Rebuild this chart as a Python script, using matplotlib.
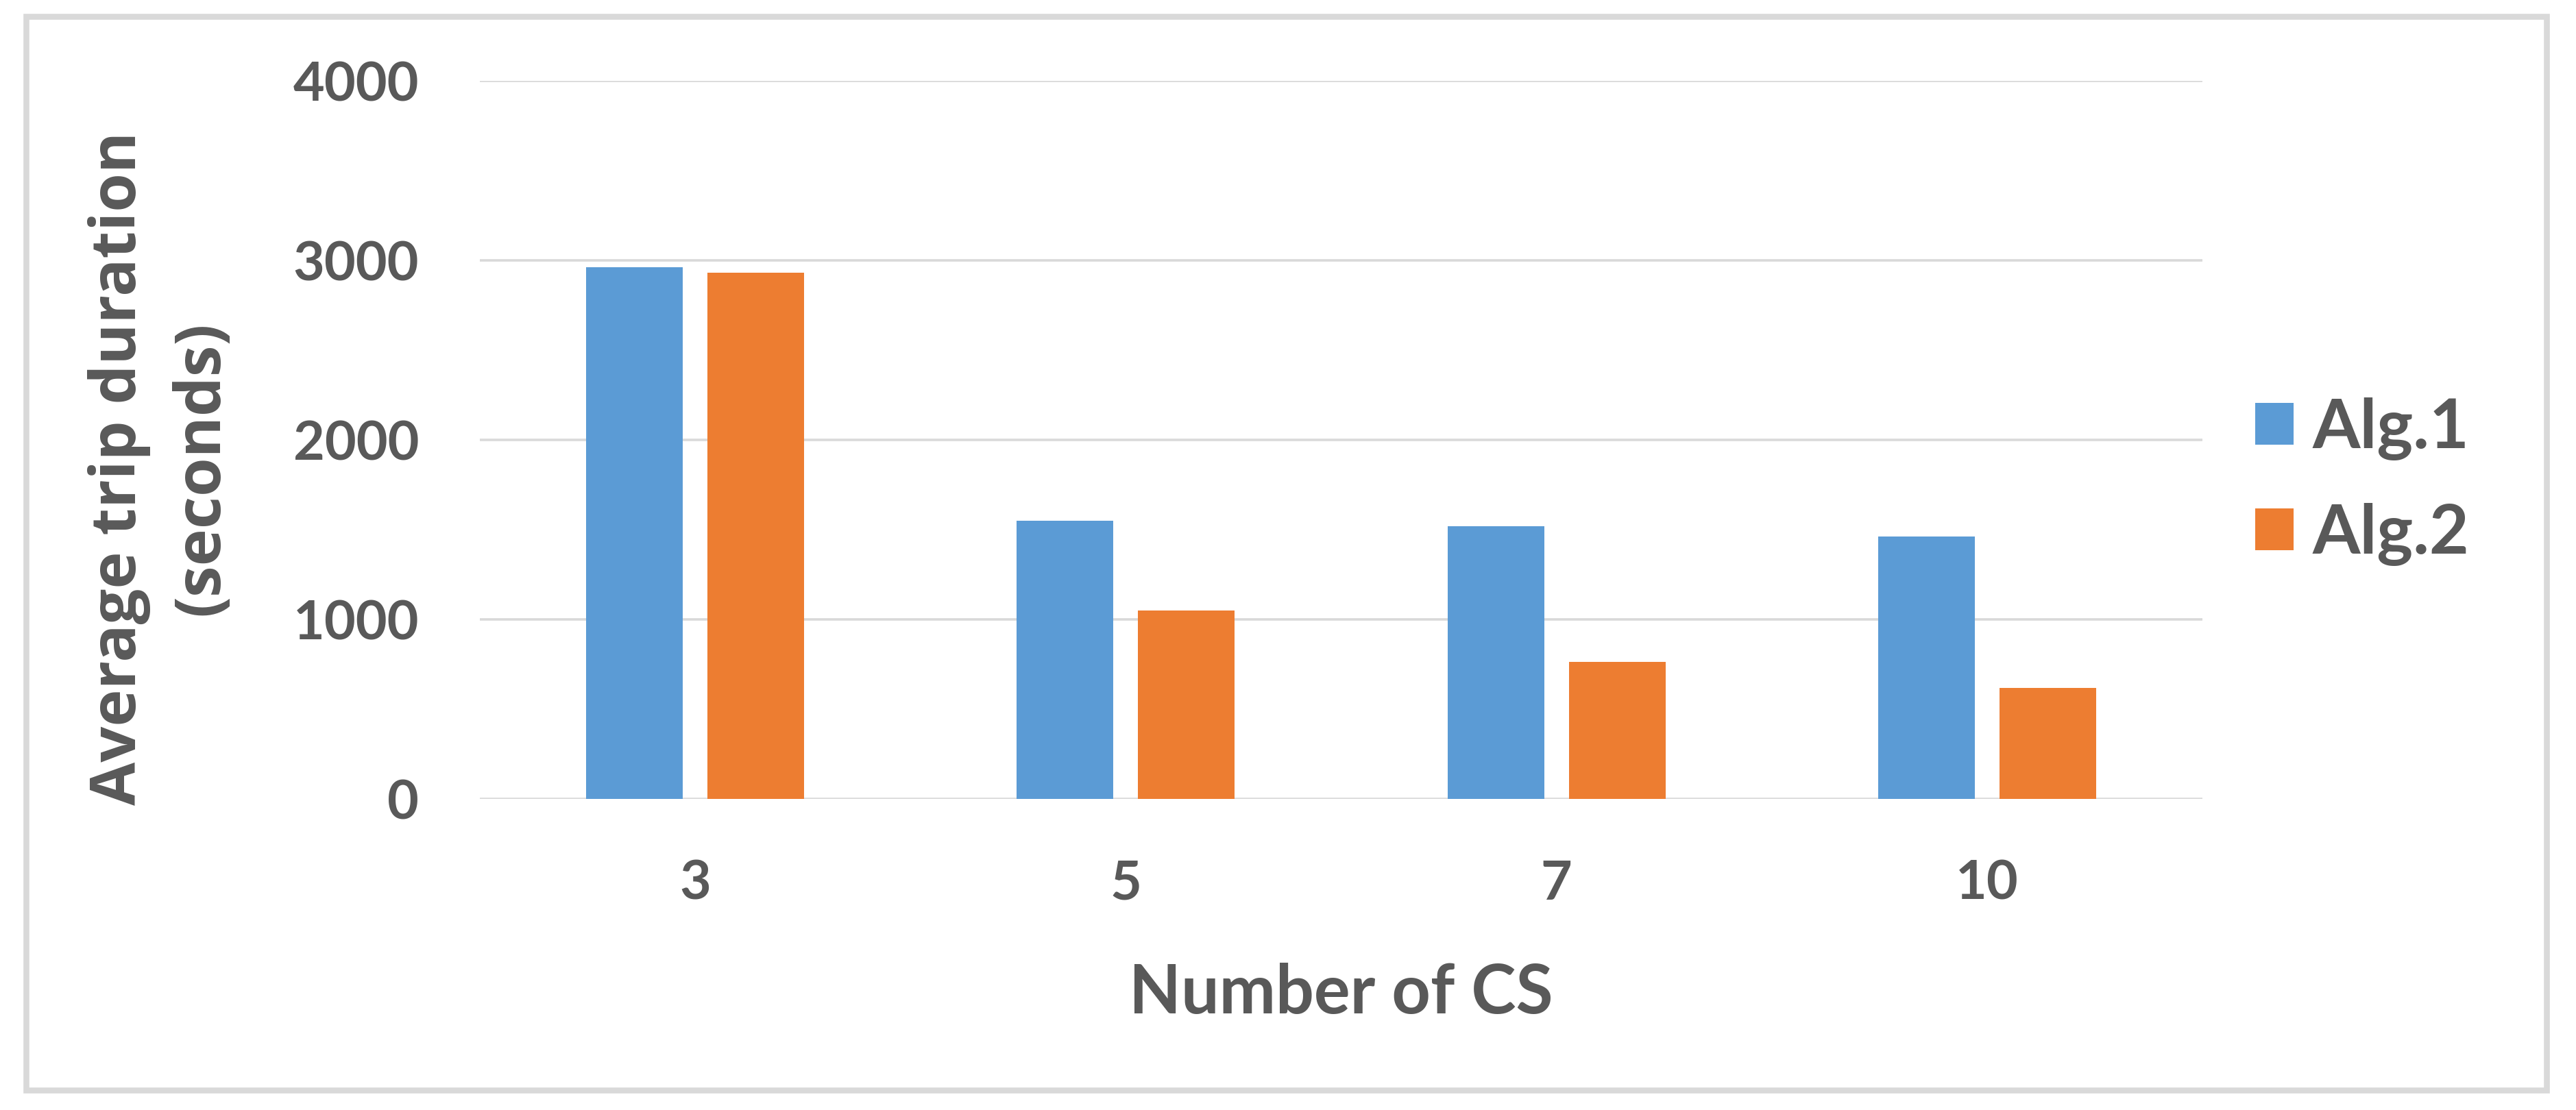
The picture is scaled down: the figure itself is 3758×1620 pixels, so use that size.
import matplotlib
matplotlib.use("Agg")
import matplotlib.pyplot as plt
import numpy as np
from matplotlib.patches import Rectangle

categories = ["3", "5", "7", "10"]
series_names = ["Alg.1", "Alg.2"]
alg1 = [2963, 1549, 1520, 1462]
alg2 = [2932, 1048, 762, 620]
y_ticks = [0, 1000, 2000, 3000, 4000]
x_label = "Number of CS"
y_label = "Average trip duration\n(seconds)"

colors = ["#5B9BD5", "#ED7D31"]
text_color = "#595959"
grid_color = "#D9D9D9"

W, H = 3758, 1620
fig = plt.figure(figsize=(W / 100, H / 100), dpi=100)
fig.patch.set_facecolor("white")

ax = fig.add_axes([700 / W, 1 - 1166 / H, (3213 - 700) / W, (1166 - 118) / H])

x = np.arange(len(categories))
bw = 0.2245
off = 0.1408
ax.bar(x - off, alg1, width=bw, color=colors[0], label=series_names[0], zorder=3)
ax.bar(x + off, alg2, width=bw, color=colors[1], label=series_names[1], zorder=3)

ax.set_xlim(-0.5, len(categories) - 0.5)
ax.set_ylim(0, 4000)
ax.set_yticks(y_ticks)
ax.set_yticklabels([str(v) for v in y_ticks])
ax.set_xticks(x)
ax.set_xticklabels(categories)
ax.grid(axis="y", color=grid_color, linewidth=2.6, zorder=0)
ax.set_axisbelow(True)
for s in ax.spines.values():
    s.set_visible(False)
ax.tick_params(axis="both", length=0, colors=text_color, labelsize=57)
ax.tick_params(axis="y", pad=64)
ax.tick_params(axis="x", pad=64)
for lab in ax.get_xticklabels() + ax.get_yticklabels():
    lab.set_fontfamily("Lato")
    lab.set_fontweight("bold")

ax.set_xlabel(x_label, fontsize=71, fontfamily="Lato", fontweight="bold",
              color=text_color, labelpad=56)

fig.text(234 / W, 1 - 683 / H, y_label, rotation=90, ha="center", va="center",
         multialignment="center", fontsize=66, fontfamily="Open Sans",
         fontweight="bold", color=text_color, linespacing=1.4)

leg = ax.legend(loc="center left", bbox_to_anchor=(3290 / W, 1 - 703 / H),
                bbox_transform=fig.transFigure, frameon=False,
                prop={"family": "Lato", "weight": "bold", "size": 72},
                handlelength=0.56, handleheight=0.56, handletextpad=0.28,
                labelspacing=0.62, borderpad=0, borderaxespad=0)
for t in leg.get_texts():
    t.set_color(text_color)

fig.patches.append(Rectangle((38 / W, 1 - 1591 / H), (3715 - 38) / W, (1591 - 24) / H,
                             transform=fig.transFigure, fill=False,
                             edgecolor=grid_color, linewidth=6.2))

fig.savefig("out.png", dpi=100, facecolor="white")
